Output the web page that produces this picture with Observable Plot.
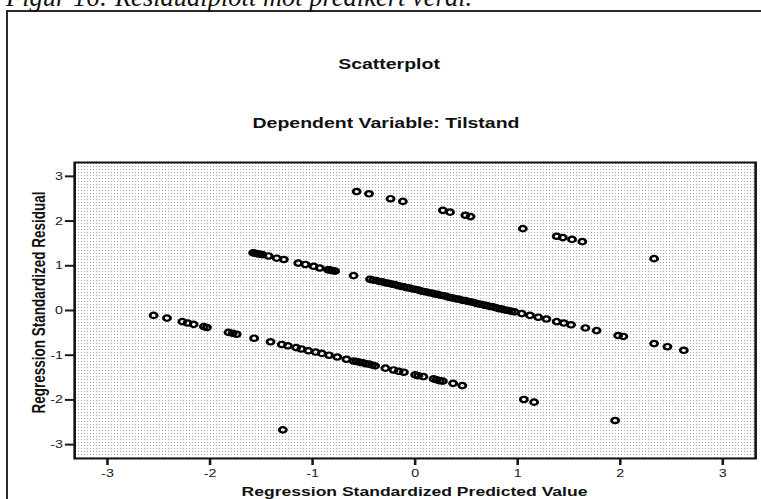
<!DOCTYPE html>
<html><head><meta charset="utf-8">
<script src="https://cdn.jsdelivr.net/npm/d3@7"></script>
<script src="https://cdn.jsdelivr.net/npm/@observablehq/plot@0.6"></script>
<style>
html,body{margin:0;padding:0;background:#fff;}
#page{position:relative;width:761px;height:499px;overflow:hidden;background:#fff;}
#outer{position:absolute;left:6px;top:10px;width:820px;height:600px;border-left:2px solid #2a2a2a;border-top:2px solid #2a2a2a;}
#bg{position:absolute;left:74px;top:162px;width:681px;height:296px;background-color:#eee;}
#plot{position:absolute;left:0;top:140px;transform:scaleX(1.3);transform-origin:0 0;}
#labels{position:absolute;left:0;top:0;pointer-events:none;}
#labels text{font-family:"Liberation Sans",Arial,sans-serif;font-weight:bold;fill:#111;}
</style></head><body>
<div id="page">
  <div id="outer"></div>
  <div id="bg"></div>
  <div id="plot"></div>
  <svg id="labels" width="761" height="499">
    <text x="6" y="6" style="font-family:'Liberation Serif','Times New Roman',serif;font-style:italic;font-weight:normal;font-size:26.5px">Figur 16: Residualplott mot predikert verdi.</text>
    <text transform="translate(389,69) scale(1.3,1)" text-anchor="middle" style="font-size:15px">Scatterplot</text>
    <text transform="translate(386,128) scale(1.3,1)" text-anchor="middle" style="font-size:15px">Dependent Variable: Tilstand</text>
    <text transform="translate(414.5,496) scale(1.3,1)" text-anchor="middle" style="font-size:13.5px">Regression Standardized Predicted Value</text>
    <text transform="translate(45,302.5) scale(1.3,1) rotate(-90)" text-anchor="middle" style="font-size:13.5px">Regression Standardized Residual</text>
  </svg>
</div>
<script>
// Tick values
const xTicks = [-3, -2, -1, 0, 1, 2, 3];
const yTicks = [-3, -2, -1, 0, 1, 2, 3];

// Upper main band (predicted value, standardized residual)
const upperX = [-1.58,-1.56,-1.54,-1.52,-1.49,-1.43,-1.35,-1.28,-1.14,-1.07,-0.99,-0.93,-0.85,-0.84,-0.82,-0.80,-0.78,-0.60,
  -0.44,-0.41,-0.38,-0.35,-0.32,-0.29,-0.26,-0.23,-0.20,-0.17,-0.14,-0.11,-0.08,-0.05,-0.02,0.01,0.04,0.07,0.10,0.13,0.16,0.19,
  0.22,0.25,0.28,0.31,0.34,0.37,0.40,0.43,0.46,0.49,0.52,0.55,0.58,0.61,0.64,0.67,0.70,0.73,0.76,0.79,0.82,0.85,0.88,0.91,0.94,0.97,
  1.04,1.12,1.20,1.28,1.38,1.45,1.52,1.66,1.77,1.98,2.03,2.33,2.46,2.62];
const upperY = [1.29,1.28,1.27,1.26,1.25,1.22,1.17,1.14,1.06,1.03,0.99,0.95,0.91,0.91,0.90,0.89,0.88,0.78,
  0.70,0.68,0.67,0.65,0.64,0.62,0.61,0.59,0.58,0.56,0.54,0.53,0.51,0.50,0.48,0.47,0.45,0.43,0.42,0.40,0.39,0.37,
  0.36,0.34,0.33,0.31,0.29,0.28,0.26,0.25,0.23,0.22,0.20,0.19,0.17,0.15,0.14,0.12,0.11,0.09,0.08,0.06,0.04,0.03,0.01,0.00,-0.02,-0.03,
  -0.07,-0.11,-0.15,-0.19,-0.25,-0.28,-0.32,-0.39,-0.45,-0.56,-0.58,-0.74,-0.81,-0.89];

// Lower main band
const lowerX = [-2.55,-2.42,-2.27,-2.22,-2.16,-2.06,-2.03,-1.82,-1.78,-1.74,-1.57,-1.41,-1.30,-1.24,-1.16,-1.11,-1.04,-0.97,-0.91,-0.84,
  -0.76,-0.67,-0.60,-0.57,-0.54,-0.51,-0.48,-0.45,-0.42,-0.39,-0.29,-0.21,-0.16,-0.11,0.00,0.03,0.08,0.18,0.21,0.24,0.27,0.37,0.46,
  1.06,1.16,1.95];
const lowerY = [-0.11,-0.17,-0.25,-0.28,-0.31,-0.36,-0.38,-0.49,-0.51,-0.53,-0.62,-0.70,-0.76,-0.79,-0.83,-0.86,-0.90,-0.93,-0.96,-1.00,
  -1.04,-1.09,-1.13,-1.14,-1.16,-1.17,-1.19,-1.20,-1.22,-1.24,-1.29,-1.33,-1.36,-1.38,-1.44,-1.46,-1.48,-1.53,-1.55,-1.57,-1.58,-1.63,-1.68,
  -1.99,-2.05,-2.46];

// Top band
const topX = [-0.57,-0.45,-0.24,-0.12,0.27,0.34,0.49,0.54,1.05,1.38,1.44,1.53,1.63,2.33];
const topY = [2.66,2.61,2.50,2.44,2.24,2.20,2.13,2.10,1.83,1.66,1.63,1.59,1.54,1.16];

// Lone low residual
const lowX = [-1.29];
const lowY = [-2.67];

const points = [];
[[upperX, upperY], [lowerX, lowerY], [topX, topY], [lowX, lowY]].forEach(([xs, ys]) => {
  xs.forEach((x, i) => points.push({x, y: ys[i]}));
});

// dotted background texture
const cv = document.createElement("canvas");
cv.width = 3; cv.height = 3;
const cx = cv.getContext("2d");
cx.fillStyle = "#ffffff"; cx.fillRect(0, 0, 3, 3);
cx.fillStyle = "#a6a6a6"; cx.fillRect(1, 1, 1, 1);
document.getElementById("bg").style.backgroundImage = `url(${cv.toDataURL()})`;

const S = 1.3;
const W = 761 / S;
const chart = Plot.plot({
  width: W,
  height: 360,
  marginLeft: 74 / S,
  marginRight: 6 / S,
  marginTop: 22,
  marginBottom: 42,
  style: {background: "transparent", fontFamily: "'Liberation Sans', Arial, sans-serif", fontSize: "11px", color: "#1a1a1a", overflow: "visible"},
  x: {domain: [-3.32, 3.32], ticks: xTicks, tickFormat: d => String(d), tickSize: 7, tickPadding: 4, label: null},
  y: {domain: [-3.31, 3.31], ticks: yTicks, tickFormat: d => String(d), tickSize: 7, tickPadding: 2, label: null},
  marks: [
    Plot.dot(points, {x: "x", y: "y", r: 2.7, stroke: "#000", strokeWidth: 2.2, fill: "none"}),
    Plot.frame({stroke: "#111", strokeWidth: 2})
  ]
});
d3.select(chart).selectAll('g[aria-label="x-axis tick"], g[aria-label="y-axis tick"]').attr("stroke-width", 2);
document.getElementById("plot").appendChild(chart);
</script>
</body></html>
